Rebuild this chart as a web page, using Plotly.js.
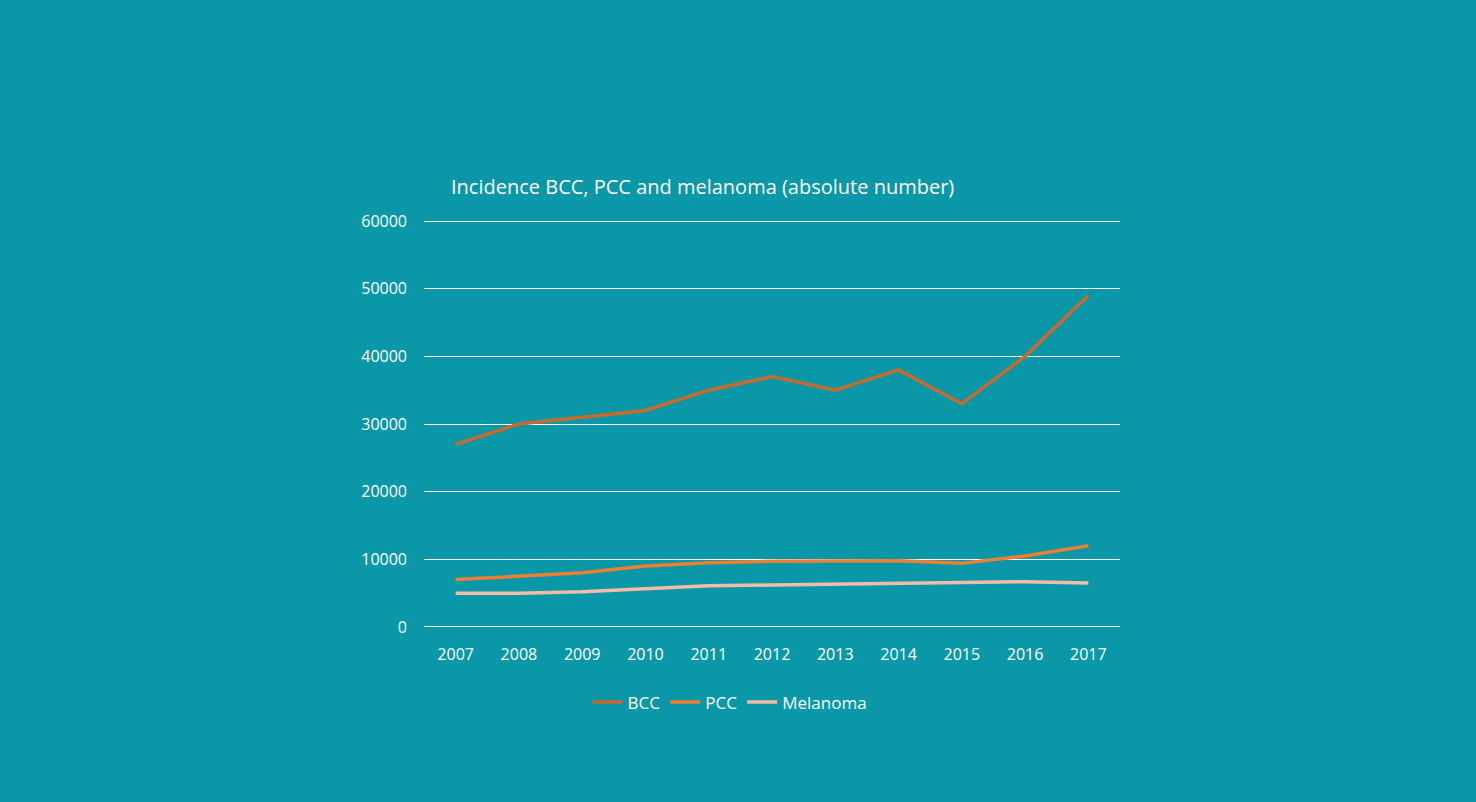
<!DOCTYPE html>
<html>
<head>
<meta charset="utf-8">
<script src="https://cdn.plot.ly/plotly-3.0.1.min.js"></script>
<style>
  html, body { margin: 0; padding: 0; background: #0a98a8; }
  #chart { width: 1476px; height: 802px; }
</style>
</head>
<body>
<div id="chart"></div>
<script>
// values
const years = ['2007', '2008', '2009', '2010', '2011', '2012', '2013', '2014', '2015', '2016', '2017'];
const bcc = [27000, 30000, 31000, 32000, 35000, 37000, 35000, 38000, 33000, 40000, 49000];
const pcc = [7000, 7500, 8000, 9000, 9500, 9700, 9800, 9800, 9400, 10500, 12000];
const melanoma = [5000, 5000, 5200, 5600, 6100, 6200, 6300, 6400, 6500, 6700, 6500];

function line(name, y, color) {
  return {x: years, y: y, name: name, type: 'scatter', mode: 'lines',
          line: {color: color, width: 3.5}};
}

const data = [
  line('BCC', bcc, '#c8692e'),
  line('PCC', pcc, '#ec7f32'),
  line('Melanoma', melanoma, '#f3bca6')
];

const layout = {
  width: 1476, height: 802,
  paper_bgcolor: '#0a98a8', plot_bgcolor: '#0a98a8',
  font: {family: '"Open Sans", sans-serif', color: '#ffffff', size: 16},
  title: {text: 'Incidence BCC, PCC and melanoma (absolute number)',
          x: 451 / 1476, xref: 'container', xanchor: 'left',
          y: 1 - 187 / 802, yref: 'container', yanchor: 'middle',
          font: {size: 20, color: '#ffffff'}},
  margin: {l: 424, r: 356, t: 219, b: 173},
  showlegend: true,
  legend: {orientation: 'h', x: 0.235, xanchor: 'left', y: -0.135, yanchor: 'top',
           font: {size: 17}},
  xaxis: {type: 'category', range: [-0.5, 10.5], showgrid: false, zeroline: false,
          showline: false, ticks: '', ticklabelstandoff: 14, tickfont: {size: 16}},
  yaxis: {range: [-300, 60300], dtick: 10000, tickformat: 'd', showgrid: true,
          gridcolor: '#ffffff', gridwidth: 1, zeroline: false, showline: false,
          ticks: '', ticklabelstandoff: 16, tickfont: {size: 16}}
};

Plotly.newPlot('chart', data, layout, {displayModeBar: false});
</script>
</body>
</html>
